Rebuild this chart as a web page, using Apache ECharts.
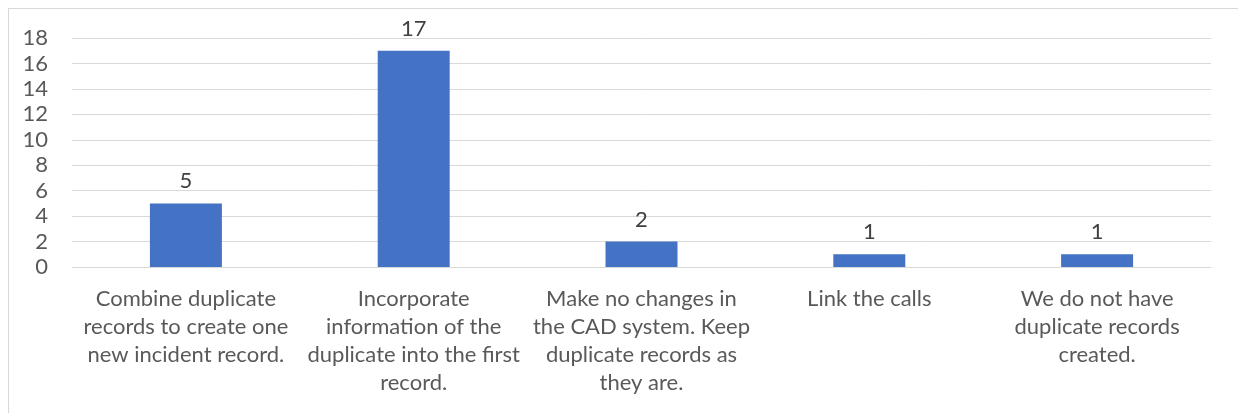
<!DOCTYPE html>
<html><head><meta charset="utf-8">
<script src="https://cdn.jsdelivr.net/npm/echarts@6/dist/echarts.min.js"></script>
<style>
html,body{margin:0;padding:0;background:#fff;overflow:hidden}
#c{width:1238px;height:413px;position:relative}
#frame{position:absolute;left:8px;top:8px;width:1300px;height:500px;border-left:1px solid #d9d9d9;border-top:1px solid #d9d9d9;pointer-events:none}
</style></head>
<body>
<div id="c"></div><div id="frame"></div>
<script>
const categories = [
  "Combine duplicate\nrecords to create one\nnew incident record.",
  "Incorporate\ninformation of the\nduplicate into the first\nrecord.",
  "Make no changes in\nthe CAD system. Keep\nduplicate records as\nthey are.",
  "Link the calls",
  "We do not have\nduplicate records\ncreated."
];
const values = [5, 17, 2, 1, 1];
const yTicks = [0, 2, 4, 6, 8, 10, 12, 14, 16, 18];

const chart = echarts.init(document.getElementById('c'));
const font = 'Lato, "Open Sans", sans-serif';
chart.setOption({
  animation: false,
  grid: {left: 72, right: 27, top: 38, bottom: 146, containLabel: false},
  xAxis: {
    type: 'category', data: categories,
    axisLine: {lineStyle: {color: '#d9d9d9'}},
    axisTick: {show: false},
    axisLabel: {color: '#595959', fontSize: 22, fontFamily: font, lineHeight: 28, margin: 18, interval: 0, verticalAlign: 'top'}
  },
  yAxis: {
    type: 'value', min: yTicks[0], max: yTicks[yTicks.length - 1], interval: 2,
    axisLine: {show: false}, axisTick: {show: false},
    splitLine: {lineStyle: {color: '#d9d9d9'}},
    axisLabel: {color: '#595959', fontSize: 22, fontFamily: font, margin: 24}
  },
  series: [{
    type: 'bar', data: values, barWidth: '31.6%',
    itemStyle: {color: '#4472C4'},
    label: {show: true, position: 'top', distance: 11, color: '#404040', fontSize: 22, fontFamily: font}
  }]
});
</script>
</body></html>
